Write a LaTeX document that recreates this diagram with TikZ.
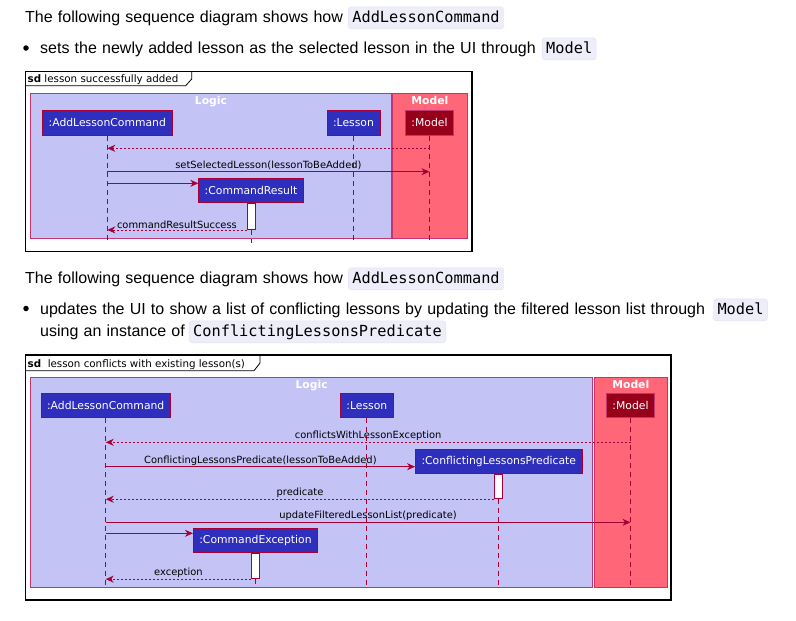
\documentclass[tikz,border=0pt]{standalone}
\usepackage{fontspec}
\setmainfont{Liberation Sans}
\setmonofont{DejaVu Sans Mono}
\newfontfamily\umlfont{DejaVu Sans}
\usepackage{tikz}
\usetikzlibrary{arrows.meta, positioning}
\definecolor{umlred}{RGB}{168,0,54}
\definecolor{logicbg}{RGB}{195,195,246}
\definecolor{grpbd}{RGB}{196,52,110}
\definecolor{modelbg}{RGB}{255,103,121}
\definecolor{partblue}{RGB}{47,47,190}
\definecolor{partred}{RGB}{150,0,26}
\definecolor{codebg}{RGB}{238,238,250}
\definecolor{codebd}{RGB}{226,226,240}
\newcommand{\bodyfont}{\fontsize{16}{19}\selectfont\spaceskip=5.2pt\relax}

\begin{document}
\begin{tikzpicture}[x=1pt, y=-1pt,
    txt/.style   ={font=\bodyfont, inner sep=0pt, anchor=base west},
    code/.style  ={font=\ttfamily\fontsize{15.3}{17}\selectfont, fill=codebg, draw=codebd,
                   rounded corners=3pt, inner xsep=4pt, inner ysep=0pt,
                   minimum height=22pt, text height=11pt, text depth=2pt},
    dot/.style   ={circle, fill=black, inner sep=0pt, minimum size=5.5pt},
    frame/.style ={draw=black, line width=1.1pt},
    tab/.style   ={font=\umlfont\fontsize{10.3}{12}\selectfont, inner sep=0pt, anchor=base west},
    grp/.style   ={rectangle, draw=grpbd, line width=0.9pt, inner sep=0pt, anchor=north west},
    grptxt/.style={font=\umlfont\bfseries\fontsize{10.8}{12}\selectfont, text=white, inner sep=0pt},
    part/.style  ={rectangle, draw=umlred, fill=partblue, text=white, line width=0.8pt,
                   font=\umlfont\fontsize{10.8}{12}\selectfont,
                   inner xsep=6pt, minimum height=24.5pt},
    partm/.style ={part, fill=partred, draw=grpbd},
    act/.style   ={rectangle, draw=umlred, fill=white, line width=0.8pt,
                   minimum width=8pt, inner sep=0pt, anchor=north},
    life/.style  ={umlred, line width=0.8pt, dash pattern=on 5pt off 4pt},
    msg/.style   ={-{Stealth[length=8pt, width=7pt, inset=2.5pt]}, umlred, line width=0.9pt},
    ret/.style   ={msg, dash pattern=on 2pt off 2pt},
    msgtxt/.style={font=\umlfont\fontsize{9.9}{11}\selectfont, text=black, inner sep=1pt, above}
]
\useasboundingbox (0,0) rectangle (796,621);

% ============================================================
% TEXTE 1
% ============================================================

\node[txt] (t1) at (25,22) {The following sequence diagram shows how};
\node[code, right=5pt of t1] (c1) {AddLessonCommand};
\node[dot] (b1) at (26,48) {};
\node[txt] (t2) at (40,53) {sets the newly added lesson as the selected lesson in the UI through};
\node[code, right=6pt of t2] (c2) {Model};

% ============================================================
% SD : lesson successfully added
% ============================================================

\draw[frame] (25.7,71.7) rectangle (472,251.7);
\draw[line width=0.8pt] (25.7,85.7) -- (185.7,85.7) -- (191.7,79) -- (191.7,71.7);
\node[tab] (sd1) at (27.5,82.5) {\textbf{sd} lesson successfully added};

\node[grp, fill=logicbg, minimum width=361pt,  minimum height=144.7pt] (lg1) at (30,93.3)    {};
\node[grp, fill=modelbg, minimum width=74.4pt, minimum height=144.7pt] (mg1) at (392.3,93.3) {};
\node[grptxt, below=3pt of lg1.north] (lg1t) {Logic};
\node[grptxt, below=3pt of mg1.north] (mg1t) {Model};

\node[part]  (alc1) at (107.3,122.9) {:AddLessonCommand};
\node[part]  (ls1)  at (353.5,122.9) {:Lesson};
\node[partm] (md1)  at (429.5,122.9) {:Model};
\node[part]  (cr)   at (251,190.5)   {:CommandResult};
\node[act, minimum height=26pt, below=0 of cr] (cra) {};

\coordinate (e1)  at (0,243);
\coordinate (y11) at (0,148.3);
\coordinate (y12) at (0,171.7);
\coordinate (y13) at (0,183.3);

% -- lignes de vie --
\draw[life] (alc1.south) -- (alc1 |- e1);
\draw[life] (ls1.south)  -- (ls1 |- e1);
\draw[life] (md1.south)  -- (md1 |- e1);
\draw[life] (cra.south)  -- (cra |- e1);

% -- messages --
\draw[ret] (md1 |- y11)  -- (alc1 |- y11);
\draw[msg] (alc1 |- y12) -- (md1 |- y12)
    node[msgtxt, midway] (m12) {setSelectedLesson(lessonToBeAdded)};
\draw[msg] (alc1 |- y13) -- (cr.west |- y13);
\draw[ret] (cra.south west) -- (alc1 |- cra.south west)
    node[msgtxt, midway] (m14) {commandResultSuccess};

% ============================================================
% TEXTE 2
% ============================================================

\node[txt] (t3) at (25,283) {The following sequence diagram shows how};
\node[code, right=5pt of t3] (c3) {AddLessonCommand};
\node[dot] (b2) at (26,308.5) {};
\node[txt] (t4) at (40,314) {updates the UI to show a list of conflicting lessons by updating the filtered lesson list through};
\node[code, right=8pt of t4] (c4) {Model};
\node[txt] (t5) at (40,336) {using an instance of};
\node[code, right=4pt of t5] (c5) {ConflictingLessonsPredicate};

% ============================================================
% SD : lesson conflicts with existing lesson(s)
% ============================================================

\draw[frame] (25.7,355) rectangle (671,600);
\draw[line width=0.8pt] (25.7,370.7) -- (254,370.7) -- (260,363) -- (260,355);
\node[tab] (sd2) at (27.5,367) {\textbf{sd}~ lesson conflicts with existing lesson(s)};

\node[grp, fill=logicbg, minimum width=562.3pt, minimum height=210.6pt] (lg2) at (30,376.7)  {};
\node[grp, fill=modelbg, minimum width=72.7pt,  minimum height=210.6pt] (mg2) at (594,376.7) {};
\node[grptxt, below=3pt of lg2.north] (lg2t) {Logic};
\node[grptxt, below=3pt of mg2.north] (mg2t) {Model};

\node[part]  (alc2) at (105.7,405.5) {:AddLessonCommand};
\node[part]  (ls2)  at (366.8,405.5) {:Lesson};
\node[partm] (md2)  at (630.5,405.5) {:Model};
\node[part]  (clp)  at (498.8,461.5) {:ConflictingLessonsPredicate};
\node[act, minimum height=24.3pt, below=0 of clp] (clpa) {};
\node[part]  (ce)   at (255.5,540.3) {:CommandException};
\node[act, minimum height=25.4pt, below=0 of ce]  (cea)  {};

\coordinate (e2)  at (0,588);
\coordinate (y21) at (0,442.3);
\coordinate (y22) at (0,466.7);
\coordinate (y24) at (0,522.3);
\coordinate (y25) at (0,533.3);

% -- lignes de vie --
\draw[life] (alc2.south) -- (alc2 |- e2);
\draw[life] (ls2.south)  -- (ls2 |- e2);
\draw[life] (md2.south)  -- (md2 |- e2);
\draw[life] (clpa.south) -- (clpa |- e2);
\draw[life] (cea.south)  -- (cea |- e2);

% -- messages --
\draw[ret] (md2 |- y21)  -- (alc2 |- y21)
    node[msgtxt, midway] (m21) {conflictsWithLessonException};
\draw[msg] (alc2 |- y22) -- (clp.west |- y22)
    node[msgtxt, midway] (m22) {ConflictingLessonsPredicate(lessonToBeAdded)};
\draw[ret] (clpa.south west) -- (alc2 |- clpa.south west)
    node[msgtxt, midway] (m23) {predicate};
\draw[msg] (alc2 |- y24) -- (md2 |- y24)
    node[msgtxt, midway] (m24) {updateFilteredLessonList(predicate)};
\draw[msg] (alc2 |- y25) -- (ce.west |- y25);
\draw[ret] (cea.south west) -- (alc2 |- cea.south west)
    node[msgtxt, midway] (m26) {exception};

\end{tikzpicture}
\end{document}
